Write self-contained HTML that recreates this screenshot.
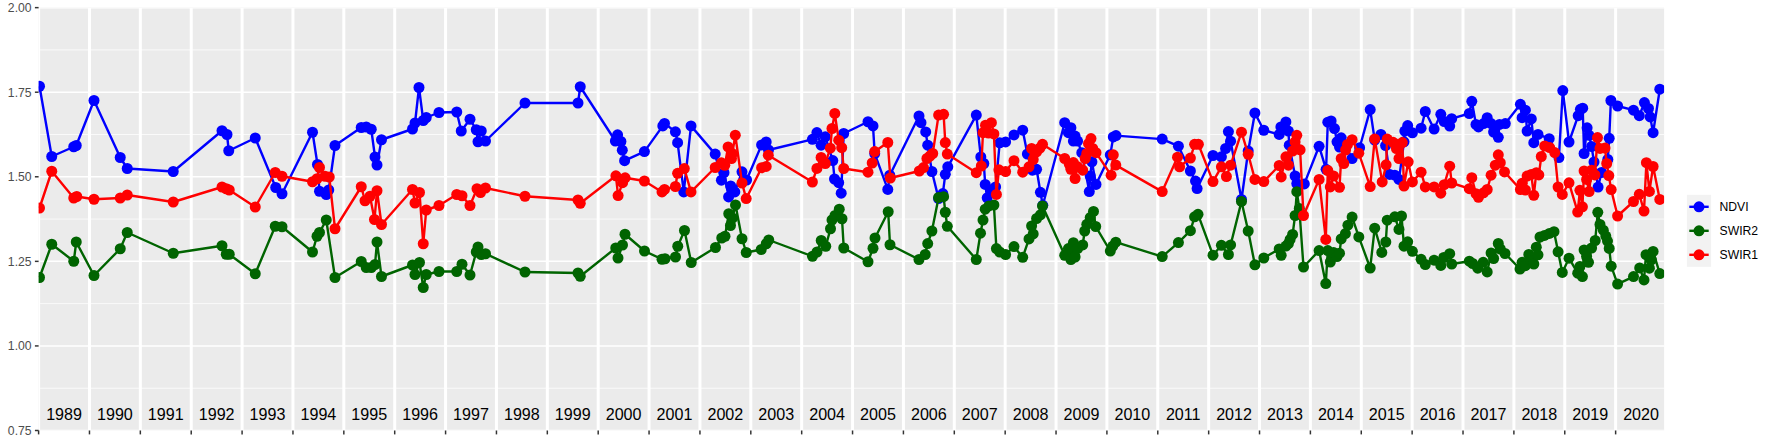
<!DOCTYPE html><html><head><meta charset="utf-8"><title>plot</title><style>html,body{margin:0;padding:0;background:#fff}svg{display:block}text{font-family:"Liberation Sans",Arial,Helvetica,sans-serif}</style></head><body>
<svg width="1773" height="442" viewBox="0 0 1773 442">
<rect width="1773" height="442" fill="#fff"/>
<defs><clipPath id="cp"><rect x="38.6" y="7.64" width="1625.5" height="422.86"/></clipPath></defs>
<rect x="38.6" y="7.64" width="1625.5" height="422.86" fill="#EBEBEB"/>
<g clip-path="url(#cp)">
<line x1="38.6" x2="1664.1" y1="49.93" y2="49.93" stroke="#fff" stroke-width="0.75"/>
<line x1="38.6" x2="1664.1" y1="134.50" y2="134.50" stroke="#fff" stroke-width="0.75"/>
<line x1="38.6" x2="1664.1" y1="219.07" y2="219.07" stroke="#fff" stroke-width="0.75"/>
<line x1="38.6" x2="1664.1" y1="303.64" y2="303.64" stroke="#fff" stroke-width="0.75"/>
<line x1="38.6" x2="1664.1" y1="388.21" y2="388.21" stroke="#fff" stroke-width="0.75"/>
<line x1="38.6" x2="1664.1" y1="7.64" y2="7.64" stroke="#fff" stroke-width="1.48"/>
<line x1="38.6" x2="1664.1" y1="92.21" y2="92.21" stroke="#fff" stroke-width="1.48"/>
<line x1="38.6" x2="1664.1" y1="176.78" y2="176.78" stroke="#fff" stroke-width="1.48"/>
<line x1="38.6" x2="1664.1" y1="261.36" y2="261.36" stroke="#fff" stroke-width="1.48"/>
<line x1="38.6" x2="1664.1" y1="345.93" y2="345.93" stroke="#fff" stroke-width="1.48"/>
<line x1="38.6" x2="1664.1" y1="430.50" y2="430.50" stroke="#fff" stroke-width="1.48"/>
<line x1="38.60" x2="38.60" y1="7.64" y2="430.5" stroke="#fff" stroke-width="3"/>
<line x1="89.47" x2="89.47" y1="7.64" y2="430.5" stroke="#fff" stroke-width="3"/>
<line x1="140.34" x2="140.34" y1="7.64" y2="430.5" stroke="#fff" stroke-width="3"/>
<line x1="191.22" x2="191.22" y1="7.64" y2="430.5" stroke="#fff" stroke-width="3"/>
<line x1="242.09" x2="242.09" y1="7.64" y2="430.5" stroke="#fff" stroke-width="3"/>
<line x1="292.96" x2="292.96" y1="7.64" y2="430.5" stroke="#fff" stroke-width="3"/>
<line x1="343.83" x2="343.83" y1="7.64" y2="430.5" stroke="#fff" stroke-width="3"/>
<line x1="394.70" x2="394.70" y1="7.64" y2="430.5" stroke="#fff" stroke-width="3"/>
<line x1="445.58" x2="445.58" y1="7.64" y2="430.5" stroke="#fff" stroke-width="3"/>
<line x1="496.45" x2="496.45" y1="7.64" y2="430.5" stroke="#fff" stroke-width="3"/>
<line x1="547.32" x2="547.32" y1="7.64" y2="430.5" stroke="#fff" stroke-width="3"/>
<line x1="598.19" x2="598.19" y1="7.64" y2="430.5" stroke="#fff" stroke-width="3"/>
<line x1="649.06" x2="649.06" y1="7.64" y2="430.5" stroke="#fff" stroke-width="3"/>
<line x1="699.94" x2="699.94" y1="7.64" y2="430.5" stroke="#fff" stroke-width="3"/>
<line x1="750.81" x2="750.81" y1="7.64" y2="430.5" stroke="#fff" stroke-width="3"/>
<line x1="801.68" x2="801.68" y1="7.64" y2="430.5" stroke="#fff" stroke-width="3"/>
<line x1="852.55" x2="852.55" y1="7.64" y2="430.5" stroke="#fff" stroke-width="3"/>
<line x1="903.42" x2="903.42" y1="7.64" y2="430.5" stroke="#fff" stroke-width="3"/>
<line x1="954.30" x2="954.30" y1="7.64" y2="430.5" stroke="#fff" stroke-width="3"/>
<line x1="1005.17" x2="1005.17" y1="7.64" y2="430.5" stroke="#fff" stroke-width="3"/>
<line x1="1056.04" x2="1056.04" y1="7.64" y2="430.5" stroke="#fff" stroke-width="3"/>
<line x1="1106.91" x2="1106.91" y1="7.64" y2="430.5" stroke="#fff" stroke-width="3"/>
<line x1="1157.78" x2="1157.78" y1="7.64" y2="430.5" stroke="#fff" stroke-width="3"/>
<line x1="1208.66" x2="1208.66" y1="7.64" y2="430.5" stroke="#fff" stroke-width="3"/>
<line x1="1259.53" x2="1259.53" y1="7.64" y2="430.5" stroke="#fff" stroke-width="3"/>
<line x1="1310.40" x2="1310.40" y1="7.64" y2="430.5" stroke="#fff" stroke-width="3"/>
<line x1="1361.27" x2="1361.27" y1="7.64" y2="430.5" stroke="#fff" stroke-width="3"/>
<line x1="1412.14" x2="1412.14" y1="7.64" y2="430.5" stroke="#fff" stroke-width="3"/>
<line x1="1463.02" x2="1463.02" y1="7.64" y2="430.5" stroke="#fff" stroke-width="3"/>
<line x1="1513.89" x2="1513.89" y1="7.64" y2="430.5" stroke="#fff" stroke-width="3"/>
<line x1="1564.76" x2="1564.76" y1="7.64" y2="430.5" stroke="#fff" stroke-width="3"/>
<line x1="1615.63" x2="1615.63" y1="7.64" y2="430.5" stroke="#fff" stroke-width="3"/>
<polyline points="39.50,86.25 51.75,156.50 73.75,146.75 76.25,145.50 94.00,100.50 120.25,157.50 127.25,168.50 173.25,171.50 222.00,130.75 227.00,134.50 228.75,150.75 255.25,138.00 275.75,187.50 282.00,193.75 312.50,132.25 317.50,164.50 319.50,191.25 326.25,194.50 328.75,190.00 335.00,145.50 361.25,127.50 366.25,127.00 371.25,129.25 375.00,157.00 377.00,165.00 381.50,139.75 412.50,129.00 415.00,123.00 419.00,87.50 423.25,120.50 426.25,117.50 439.00,112.50 456.75,112.00 461.25,131.00 470.00,119.25 476.25,129.75 478.00,141.75 481.25,131.00 485.50,141.00 525.00,103.00 578.00,103.00 580.25,86.75 615.40,141.00 617.60,134.80 620.90,141.50 622.30,150.20 624.60,160.70 644.40,151.60 662.80,125.90 664.50,123.40 675.40,131.80 677.60,142.70 683.75,191.90 691.00,125.90 715.20,154.10 721.40,180.20 724.00,172.70 728.60,196.90 730.70,186.00 734.80,191.90 742.00,171.80 746.60,180.00 761.60,144.90 766.20,141.90 768.50,150.00 812.40,139.30 816.90,132.60 821.10,145.20 825.30,136.80 832.80,160.60 834.50,179.00 838.70,182.70 841.20,193.20 843.70,133.50 868.00,121.75 873.00,125.90 874.70,153.60 887.80,189.40 889.80,175.20 919.00,116.00 921.00,122.70 925.70,131.90 927.70,145.20 931.90,171.50 938.60,198.60 942.80,193.60 945.30,174.30 947.80,166.80 976.30,115.10 980.80,157.00 983.80,163.50 985.20,184.40 987.20,197.80 991.00,190.00 995.60,186.90 999.70,142.80 1005.60,141.90 1014.00,134.90 1022.70,130.20 1027.40,154.00 1032.40,170.20 1036.60,169.30 1040.40,192.30 1042.80,205.30 1064.70,122.70 1068.40,132.70 1070.90,127.70 1073.40,141.10 1075.10,136.10 1077.60,141.10 1081.80,152.70 1089.30,191.60 1090.20,176.00 1091.90,161.80 1096.00,184.40 1110.30,154.80 1113.30,136.90 1116.00,135.60 1162.20,139.10 1178.40,146.20 1190.40,171.00 1195.50,181.10 1197.10,188.60 1213.00,155.50 1221.40,156.80 1225.60,148.50 1228.40,131.60 1230.60,141.20 1241.50,199.50 1248.20,151.00 1254.90,113.00 1263.80,130.25 1279.20,134.40 1280.90,126.90 1285.90,121.90 1288.40,131.10 1289.25,145.20 1295.10,176.00 1296.80,183.60 1304.30,183.90 1319.10,146.30 1326.10,169.30 1327.80,122.20 1331.10,121.00 1334.50,128.60 1337.00,141.80 1339.50,147.00 1341.20,137.80 1352.10,158.50 1359.60,147.70 1370.20,109.60 1374.70,140.00 1380.90,134.40 1385.60,145.60 1389.75,174.40 1394.80,175.20 1399.00,179.40 1404.00,141.80 1404.80,131.10 1407.70,125.60 1412.40,132.80 1421.10,128.20 1425.30,111.50 1434.10,129.10 1440.80,114.30 1444.20,121.50 1449.70,126.10 1451.70,118.70 1469.30,113.50 1471.80,101.30 1476.00,124.40 1478.50,126.90 1483.50,123.60 1487.20,117.70 1491.10,123.60 1493.60,132.00 1498.30,137.30 1499.50,124.40 1505.30,123.60 1520.40,104.30 1522.10,117.70 1525.40,110.20 1527.10,131.10 1531.30,118.90 1533.80,142.70 1538.00,134.40 1549.20,138.70 1558.90,157.60 1562.80,90.60 1569.00,142.00 1578.20,115.70 1580.40,109.30 1582.70,108.20 1584.10,153.50 1587.10,127.80 1589.10,135.30 1591.60,146.50 1594.00,162.00 1598.10,187.10 1601.50,172.50 1607.80,159.40 1609.20,138.30 1610.90,100.50 1617.60,106.00 1633.50,110.20 1639.30,115.70 1644.40,102.60 1648.50,108.50 1650.20,116.90 1653.10,132.70 1659.80,89.20" fill="none" stroke="#0000FF" stroke-width="2.4" stroke-linejoin="round" stroke-linecap="butt"/>
<g fill="#0000FF"><circle cx="39.50" cy="86.25" r="5.5"/><circle cx="51.75" cy="156.50" r="5.5"/><circle cx="73.75" cy="146.75" r="5.5"/><circle cx="76.25" cy="145.50" r="5.5"/><circle cx="94.00" cy="100.50" r="5.5"/><circle cx="120.25" cy="157.50" r="5.5"/><circle cx="127.25" cy="168.50" r="5.5"/><circle cx="173.25" cy="171.50" r="5.5"/><circle cx="222.00" cy="130.75" r="5.5"/><circle cx="227.00" cy="134.50" r="5.5"/><circle cx="228.75" cy="150.75" r="5.5"/><circle cx="255.25" cy="138.00" r="5.5"/><circle cx="275.75" cy="187.50" r="5.5"/><circle cx="282.00" cy="193.75" r="5.5"/><circle cx="312.50" cy="132.25" r="5.5"/><circle cx="317.50" cy="164.50" r="5.5"/><circle cx="319.50" cy="191.25" r="5.5"/><circle cx="326.25" cy="194.50" r="5.5"/><circle cx="328.75" cy="190.00" r="5.5"/><circle cx="335.00" cy="145.50" r="5.5"/><circle cx="361.25" cy="127.50" r="5.5"/><circle cx="366.25" cy="127.00" r="5.5"/><circle cx="371.25" cy="129.25" r="5.5"/><circle cx="375.00" cy="157.00" r="5.5"/><circle cx="377.00" cy="165.00" r="5.5"/><circle cx="381.50" cy="139.75" r="5.5"/><circle cx="412.50" cy="129.00" r="5.5"/><circle cx="415.00" cy="123.00" r="5.5"/><circle cx="419.00" cy="87.50" r="5.5"/><circle cx="423.25" cy="120.50" r="5.5"/><circle cx="426.25" cy="117.50" r="5.5"/><circle cx="439.00" cy="112.50" r="5.5"/><circle cx="456.75" cy="112.00" r="5.5"/><circle cx="461.25" cy="131.00" r="5.5"/><circle cx="470.00" cy="119.25" r="5.5"/><circle cx="476.25" cy="129.75" r="5.5"/><circle cx="478.00" cy="141.75" r="5.5"/><circle cx="481.25" cy="131.00" r="5.5"/><circle cx="485.50" cy="141.00" r="5.5"/><circle cx="525.00" cy="103.00" r="5.5"/><circle cx="578.00" cy="103.00" r="5.5"/><circle cx="580.25" cy="86.75" r="5.5"/><circle cx="615.40" cy="141.00" r="5.5"/><circle cx="617.60" cy="134.80" r="5.5"/><circle cx="620.90" cy="141.50" r="5.5"/><circle cx="622.30" cy="150.20" r="5.5"/><circle cx="624.60" cy="160.70" r="5.5"/><circle cx="644.40" cy="151.60" r="5.5"/><circle cx="662.80" cy="125.90" r="5.5"/><circle cx="664.50" cy="123.40" r="5.5"/><circle cx="675.40" cy="131.80" r="5.5"/><circle cx="677.60" cy="142.70" r="5.5"/><circle cx="683.75" cy="191.90" r="5.5"/><circle cx="691.00" cy="125.90" r="5.5"/><circle cx="715.20" cy="154.10" r="5.5"/><circle cx="721.40" cy="180.20" r="5.5"/><circle cx="724.00" cy="172.70" r="5.5"/><circle cx="728.60" cy="196.90" r="5.5"/><circle cx="730.70" cy="186.00" r="5.5"/><circle cx="734.80" cy="191.90" r="5.5"/><circle cx="742.00" cy="171.80" r="5.5"/><circle cx="746.60" cy="180.00" r="5.5"/><circle cx="761.60" cy="144.90" r="5.5"/><circle cx="766.20" cy="141.90" r="5.5"/><circle cx="768.50" cy="150.00" r="5.5"/><circle cx="812.40" cy="139.30" r="5.5"/><circle cx="816.90" cy="132.60" r="5.5"/><circle cx="821.10" cy="145.20" r="5.5"/><circle cx="825.30" cy="136.80" r="5.5"/><circle cx="832.80" cy="160.60" r="5.5"/><circle cx="834.50" cy="179.00" r="5.5"/><circle cx="838.70" cy="182.70" r="5.5"/><circle cx="841.20" cy="193.20" r="5.5"/><circle cx="843.70" cy="133.50" r="5.5"/><circle cx="868.00" cy="121.75" r="5.5"/><circle cx="873.00" cy="125.90" r="5.5"/><circle cx="874.70" cy="153.60" r="5.5"/><circle cx="887.80" cy="189.40" r="5.5"/><circle cx="889.80" cy="175.20" r="5.5"/><circle cx="919.00" cy="116.00" r="5.5"/><circle cx="921.00" cy="122.70" r="5.5"/><circle cx="925.70" cy="131.90" r="5.5"/><circle cx="927.70" cy="145.20" r="5.5"/><circle cx="931.90" cy="171.50" r="5.5"/><circle cx="938.60" cy="198.60" r="5.5"/><circle cx="942.80" cy="193.60" r="5.5"/><circle cx="945.30" cy="174.30" r="5.5"/><circle cx="947.80" cy="166.80" r="5.5"/><circle cx="976.30" cy="115.10" r="5.5"/><circle cx="980.80" cy="157.00" r="5.5"/><circle cx="983.80" cy="163.50" r="5.5"/><circle cx="985.20" cy="184.40" r="5.5"/><circle cx="987.20" cy="197.80" r="5.5"/><circle cx="991.00" cy="190.00" r="5.5"/><circle cx="995.60" cy="186.90" r="5.5"/><circle cx="999.70" cy="142.80" r="5.5"/><circle cx="1005.60" cy="141.90" r="5.5"/><circle cx="1014.00" cy="134.90" r="5.5"/><circle cx="1022.70" cy="130.20" r="5.5"/><circle cx="1027.40" cy="154.00" r="5.5"/><circle cx="1032.40" cy="170.20" r="5.5"/><circle cx="1036.60" cy="169.30" r="5.5"/><circle cx="1040.40" cy="192.30" r="5.5"/><circle cx="1042.80" cy="205.30" r="5.5"/><circle cx="1064.70" cy="122.70" r="5.5"/><circle cx="1068.40" cy="132.70" r="5.5"/><circle cx="1070.90" cy="127.70" r="5.5"/><circle cx="1073.40" cy="141.10" r="5.5"/><circle cx="1075.10" cy="136.10" r="5.5"/><circle cx="1077.60" cy="141.10" r="5.5"/><circle cx="1081.80" cy="152.70" r="5.5"/><circle cx="1089.30" cy="191.60" r="5.5"/><circle cx="1090.20" cy="176.00" r="5.5"/><circle cx="1091.90" cy="161.80" r="5.5"/><circle cx="1096.00" cy="184.40" r="5.5"/><circle cx="1110.30" cy="154.80" r="5.5"/><circle cx="1113.30" cy="136.90" r="5.5"/><circle cx="1116.00" cy="135.60" r="5.5"/><circle cx="1162.20" cy="139.10" r="5.5"/><circle cx="1178.40" cy="146.20" r="5.5"/><circle cx="1190.40" cy="171.00" r="5.5"/><circle cx="1195.50" cy="181.10" r="5.5"/><circle cx="1197.10" cy="188.60" r="5.5"/><circle cx="1213.00" cy="155.50" r="5.5"/><circle cx="1221.40" cy="156.80" r="5.5"/><circle cx="1225.60" cy="148.50" r="5.5"/><circle cx="1228.40" cy="131.60" r="5.5"/><circle cx="1230.60" cy="141.20" r="5.5"/><circle cx="1241.50" cy="199.50" r="5.5"/><circle cx="1248.20" cy="151.00" r="5.5"/><circle cx="1254.90" cy="113.00" r="5.5"/><circle cx="1263.80" cy="130.25" r="5.5"/><circle cx="1279.20" cy="134.40" r="5.5"/><circle cx="1280.90" cy="126.90" r="5.5"/><circle cx="1285.90" cy="121.90" r="5.5"/><circle cx="1288.40" cy="131.10" r="5.5"/><circle cx="1289.25" cy="145.20" r="5.5"/><circle cx="1295.10" cy="176.00" r="5.5"/><circle cx="1296.80" cy="183.60" r="5.5"/><circle cx="1304.30" cy="183.90" r="5.5"/><circle cx="1319.10" cy="146.30" r="5.5"/><circle cx="1326.10" cy="169.30" r="5.5"/><circle cx="1327.80" cy="122.20" r="5.5"/><circle cx="1331.10" cy="121.00" r="5.5"/><circle cx="1334.50" cy="128.60" r="5.5"/><circle cx="1337.00" cy="141.80" r="5.5"/><circle cx="1339.50" cy="147.00" r="5.5"/><circle cx="1341.20" cy="137.80" r="5.5"/><circle cx="1352.10" cy="158.50" r="5.5"/><circle cx="1359.60" cy="147.70" r="5.5"/><circle cx="1370.20" cy="109.60" r="5.5"/><circle cx="1374.70" cy="140.00" r="5.5"/><circle cx="1380.90" cy="134.40" r="5.5"/><circle cx="1385.60" cy="145.60" r="5.5"/><circle cx="1389.75" cy="174.40" r="5.5"/><circle cx="1394.80" cy="175.20" r="5.5"/><circle cx="1399.00" cy="179.40" r="5.5"/><circle cx="1404.00" cy="141.80" r="5.5"/><circle cx="1404.80" cy="131.10" r="5.5"/><circle cx="1407.70" cy="125.60" r="5.5"/><circle cx="1412.40" cy="132.80" r="5.5"/><circle cx="1421.10" cy="128.20" r="5.5"/><circle cx="1425.30" cy="111.50" r="5.5"/><circle cx="1434.10" cy="129.10" r="5.5"/><circle cx="1440.80" cy="114.30" r="5.5"/><circle cx="1444.20" cy="121.50" r="5.5"/><circle cx="1449.70" cy="126.10" r="5.5"/><circle cx="1451.70" cy="118.70" r="5.5"/><circle cx="1469.30" cy="113.50" r="5.5"/><circle cx="1471.80" cy="101.30" r="5.5"/><circle cx="1476.00" cy="124.40" r="5.5"/><circle cx="1478.50" cy="126.90" r="5.5"/><circle cx="1483.50" cy="123.60" r="5.5"/><circle cx="1487.20" cy="117.70" r="5.5"/><circle cx="1491.10" cy="123.60" r="5.5"/><circle cx="1493.60" cy="132.00" r="5.5"/><circle cx="1498.30" cy="137.30" r="5.5"/><circle cx="1499.50" cy="124.40" r="5.5"/><circle cx="1505.30" cy="123.60" r="5.5"/><circle cx="1520.40" cy="104.30" r="5.5"/><circle cx="1522.10" cy="117.70" r="5.5"/><circle cx="1525.40" cy="110.20" r="5.5"/><circle cx="1527.10" cy="131.10" r="5.5"/><circle cx="1531.30" cy="118.90" r="5.5"/><circle cx="1533.80" cy="142.70" r="5.5"/><circle cx="1538.00" cy="134.40" r="5.5"/><circle cx="1549.20" cy="138.70" r="5.5"/><circle cx="1558.90" cy="157.60" r="5.5"/><circle cx="1562.80" cy="90.60" r="5.5"/><circle cx="1569.00" cy="142.00" r="5.5"/><circle cx="1578.20" cy="115.70" r="5.5"/><circle cx="1580.40" cy="109.30" r="5.5"/><circle cx="1582.70" cy="108.20" r="5.5"/><circle cx="1584.10" cy="153.50" r="5.5"/><circle cx="1587.10" cy="127.80" r="5.5"/><circle cx="1589.10" cy="135.30" r="5.5"/><circle cx="1591.60" cy="146.50" r="5.5"/><circle cx="1594.00" cy="162.00" r="5.5"/><circle cx="1598.10" cy="187.10" r="5.5"/><circle cx="1601.50" cy="172.50" r="5.5"/><circle cx="1607.80" cy="159.40" r="5.5"/><circle cx="1609.20" cy="138.30" r="5.5"/><circle cx="1610.90" cy="100.50" r="5.5"/><circle cx="1617.60" cy="106.00" r="5.5"/><circle cx="1633.50" cy="110.20" r="5.5"/><circle cx="1639.30" cy="115.70" r="5.5"/><circle cx="1644.40" cy="102.60" r="5.5"/><circle cx="1648.50" cy="108.50" r="5.5"/><circle cx="1650.20" cy="116.90" r="5.5"/><circle cx="1653.10" cy="132.70" r="5.5"/><circle cx="1659.80" cy="89.20" r="5.5"/></g>
<polyline points="39.50,277.50 51.75,244.25 73.75,261.25 76.25,242.00 94.00,275.50 120.25,248.75 127.25,232.50 173.25,253.25 222.00,245.75 226.25,254.25 229.25,254.25 255.25,273.75 275.25,226.25 282.00,226.75 312.50,252.00 317.00,236.25 319.50,232.50 326.25,220.00 335.00,277.50 361.25,261.50 366.25,267.50 371.25,267.50 375.00,264.50 377.00,242.00 381.50,276.50 412.50,265.00 415.00,274.50 419.50,262.50 423.25,287.50 426.25,274.50 439.00,271.50 456.75,271.50 462.00,264.25 470.00,275.00 476.25,252.00 478.00,247.00 481.25,254.50 485.50,253.75 525.00,272.00 578.00,273.00 580.25,276.25 615.75,248.00 618.00,258.00 622.50,245.00 625.00,234.25 644.50,251.00 662.00,259.25 665.00,258.75 675.50,257.00 677.75,246.25 684.50,230.50 691.25,262.50 715.50,247.50 721.75,238.00 725.00,236.25 728.75,213.75 730.50,225.50 732.50,218.00 735.50,205.00 742.00,238.75 746.25,252.50 761.25,249.50 766.25,243.75 768.75,240.00 812.50,256.25 817.00,252.00 821.25,240.50 825.75,246.25 830.50,228.75 832.00,220.00 835.00,215.50 839.25,209.25 842.00,218.75 843.75,248.00 868.00,261.75 873.00,248.25 875.00,238.00 888.20,211.75 890.00,244.75 919.00,259.50 925.20,254.50 927.70,243.60 931.90,231.00 938.60,197.50 943.60,196.70 945.30,212.25 947.30,226.30 976.30,259.50 980.50,233.20 983.00,220.10 985.20,209.20 988.90,205.90 993.90,205.00 996.40,248.60 999.70,252.00 1005.60,254.50 1014.00,246.60 1022.70,257.30 1029.00,238.90 1031.60,226.00 1033.20,233.90 1036.60,218.50 1040.40,214.80 1042.50,205.90 1064.70,255.30 1068.40,248.60 1070.90,259.50 1073.40,242.70 1075.10,257.00 1077.60,248.60 1082.70,244.90 1084.70,231.00 1086.80,224.30 1090.20,217.60 1093.50,211.40 1095.70,226.50 1110.30,251.10 1112.80,246.10 1115.80,242.20 1162.20,256.60 1178.40,242.60 1190.40,230.70 1194.60,216.80 1198.00,214.30 1213.00,255.20 1221.40,245.30 1228.40,254.50 1230.60,244.90 1241.50,201.40 1248.20,231.00 1254.90,264.80 1263.80,258.00 1279.20,249.00 1281.20,255.30 1285.90,246.10 1288.40,243.60 1290.10,239.40 1292.60,234.40 1295.10,215.50 1296.80,191.70 1299.30,208.40 1303.50,267.00 1319.10,250.60 1325.80,283.60 1327.80,250.60 1330.30,262.00 1333.60,252.50 1337.00,256.50 1339.50,253.20 1341.20,238.90 1345.40,233.60 1347.90,225.20 1352.10,217.10 1358.80,236.90 1370.20,268.00 1374.70,228.20 1381.80,252.40 1385.80,242.00 1387.20,220.20 1394.80,216.80 1399.00,229.40 1401.50,216.00 1404.00,246.20 1407.70,241.80 1412.40,251.30 1421.10,259.30 1425.30,264.50 1434.10,260.20 1440.80,265.40 1443.80,257.50 1449.70,253.70 1451.70,264.00 1469.30,261.20 1472.70,263.50 1477.70,268.20 1483.20,262.30 1487.20,271.90 1491.10,253.00 1493.60,258.50 1498.30,243.50 1500.30,249.00 1505.00,253.50 1520.00,269.00 1522.10,262.30 1525.40,265.70 1528.80,254.50 1531.30,260.70 1533.80,264.00 1536.30,247.20 1538.00,254.80 1540.00,237.00 1544.50,235.40 1549.40,233.40 1554.00,231.70 1558.10,251.80 1562.30,272.40 1569.00,258.20 1577.70,273.20 1579.90,266.50 1582.40,276.60 1584.10,250.00 1586.60,256.50 1588.50,262.30 1591.60,248.00 1595.20,240.50 1597.80,212.30 1600.00,224.40 1603.30,230.20 1605.80,236.10 1607.50,241.10 1609.20,248.40 1611.20,266.20 1617.60,284.10 1633.50,276.60 1639.70,267.90 1644.00,279.90 1646.00,254.70 1649.40,268.20 1651.40,259.80 1653.10,251.40 1659.80,273.60" fill="none" stroke="#006400" stroke-width="2.4" stroke-linejoin="round" stroke-linecap="butt"/>
<g fill="#006400"><circle cx="39.50" cy="277.50" r="5.5"/><circle cx="51.75" cy="244.25" r="5.5"/><circle cx="73.75" cy="261.25" r="5.5"/><circle cx="76.25" cy="242.00" r="5.5"/><circle cx="94.00" cy="275.50" r="5.5"/><circle cx="120.25" cy="248.75" r="5.5"/><circle cx="127.25" cy="232.50" r="5.5"/><circle cx="173.25" cy="253.25" r="5.5"/><circle cx="222.00" cy="245.75" r="5.5"/><circle cx="226.25" cy="254.25" r="5.5"/><circle cx="229.25" cy="254.25" r="5.5"/><circle cx="255.25" cy="273.75" r="5.5"/><circle cx="275.25" cy="226.25" r="5.5"/><circle cx="282.00" cy="226.75" r="5.5"/><circle cx="312.50" cy="252.00" r="5.5"/><circle cx="317.00" cy="236.25" r="5.5"/><circle cx="319.50" cy="232.50" r="5.5"/><circle cx="326.25" cy="220.00" r="5.5"/><circle cx="335.00" cy="277.50" r="5.5"/><circle cx="361.25" cy="261.50" r="5.5"/><circle cx="366.25" cy="267.50" r="5.5"/><circle cx="371.25" cy="267.50" r="5.5"/><circle cx="375.00" cy="264.50" r="5.5"/><circle cx="377.00" cy="242.00" r="5.5"/><circle cx="381.50" cy="276.50" r="5.5"/><circle cx="412.50" cy="265.00" r="5.5"/><circle cx="415.00" cy="274.50" r="5.5"/><circle cx="419.50" cy="262.50" r="5.5"/><circle cx="423.25" cy="287.50" r="5.5"/><circle cx="426.25" cy="274.50" r="5.5"/><circle cx="439.00" cy="271.50" r="5.5"/><circle cx="456.75" cy="271.50" r="5.5"/><circle cx="462.00" cy="264.25" r="5.5"/><circle cx="470.00" cy="275.00" r="5.5"/><circle cx="476.25" cy="252.00" r="5.5"/><circle cx="478.00" cy="247.00" r="5.5"/><circle cx="481.25" cy="254.50" r="5.5"/><circle cx="485.50" cy="253.75" r="5.5"/><circle cx="525.00" cy="272.00" r="5.5"/><circle cx="578.00" cy="273.00" r="5.5"/><circle cx="580.25" cy="276.25" r="5.5"/><circle cx="615.75" cy="248.00" r="5.5"/><circle cx="618.00" cy="258.00" r="5.5"/><circle cx="622.50" cy="245.00" r="5.5"/><circle cx="625.00" cy="234.25" r="5.5"/><circle cx="644.50" cy="251.00" r="5.5"/><circle cx="662.00" cy="259.25" r="5.5"/><circle cx="665.00" cy="258.75" r="5.5"/><circle cx="675.50" cy="257.00" r="5.5"/><circle cx="677.75" cy="246.25" r="5.5"/><circle cx="684.50" cy="230.50" r="5.5"/><circle cx="691.25" cy="262.50" r="5.5"/><circle cx="715.50" cy="247.50" r="5.5"/><circle cx="721.75" cy="238.00" r="5.5"/><circle cx="725.00" cy="236.25" r="5.5"/><circle cx="728.75" cy="213.75" r="5.5"/><circle cx="730.50" cy="225.50" r="5.5"/><circle cx="732.50" cy="218.00" r="5.5"/><circle cx="735.50" cy="205.00" r="5.5"/><circle cx="742.00" cy="238.75" r="5.5"/><circle cx="746.25" cy="252.50" r="5.5"/><circle cx="761.25" cy="249.50" r="5.5"/><circle cx="766.25" cy="243.75" r="5.5"/><circle cx="768.75" cy="240.00" r="5.5"/><circle cx="812.50" cy="256.25" r="5.5"/><circle cx="817.00" cy="252.00" r="5.5"/><circle cx="821.25" cy="240.50" r="5.5"/><circle cx="825.75" cy="246.25" r="5.5"/><circle cx="830.50" cy="228.75" r="5.5"/><circle cx="832.00" cy="220.00" r="5.5"/><circle cx="835.00" cy="215.50" r="5.5"/><circle cx="839.25" cy="209.25" r="5.5"/><circle cx="842.00" cy="218.75" r="5.5"/><circle cx="843.75" cy="248.00" r="5.5"/><circle cx="868.00" cy="261.75" r="5.5"/><circle cx="873.00" cy="248.25" r="5.5"/><circle cx="875.00" cy="238.00" r="5.5"/><circle cx="888.20" cy="211.75" r="5.5"/><circle cx="890.00" cy="244.75" r="5.5"/><circle cx="919.00" cy="259.50" r="5.5"/><circle cx="925.20" cy="254.50" r="5.5"/><circle cx="927.70" cy="243.60" r="5.5"/><circle cx="931.90" cy="231.00" r="5.5"/><circle cx="938.60" cy="197.50" r="5.5"/><circle cx="943.60" cy="196.70" r="5.5"/><circle cx="945.30" cy="212.25" r="5.5"/><circle cx="947.30" cy="226.30" r="5.5"/><circle cx="976.30" cy="259.50" r="5.5"/><circle cx="980.50" cy="233.20" r="5.5"/><circle cx="983.00" cy="220.10" r="5.5"/><circle cx="985.20" cy="209.20" r="5.5"/><circle cx="988.90" cy="205.90" r="5.5"/><circle cx="993.90" cy="205.00" r="5.5"/><circle cx="996.40" cy="248.60" r="5.5"/><circle cx="999.70" cy="252.00" r="5.5"/><circle cx="1005.60" cy="254.50" r="5.5"/><circle cx="1014.00" cy="246.60" r="5.5"/><circle cx="1022.70" cy="257.30" r="5.5"/><circle cx="1029.00" cy="238.90" r="5.5"/><circle cx="1031.60" cy="226.00" r="5.5"/><circle cx="1033.20" cy="233.90" r="5.5"/><circle cx="1036.60" cy="218.50" r="5.5"/><circle cx="1040.40" cy="214.80" r="5.5"/><circle cx="1042.50" cy="205.90" r="5.5"/><circle cx="1064.70" cy="255.30" r="5.5"/><circle cx="1068.40" cy="248.60" r="5.5"/><circle cx="1070.90" cy="259.50" r="5.5"/><circle cx="1073.40" cy="242.70" r="5.5"/><circle cx="1075.10" cy="257.00" r="5.5"/><circle cx="1077.60" cy="248.60" r="5.5"/><circle cx="1082.70" cy="244.90" r="5.5"/><circle cx="1084.70" cy="231.00" r="5.5"/><circle cx="1086.80" cy="224.30" r="5.5"/><circle cx="1090.20" cy="217.60" r="5.5"/><circle cx="1093.50" cy="211.40" r="5.5"/><circle cx="1095.70" cy="226.50" r="5.5"/><circle cx="1110.30" cy="251.10" r="5.5"/><circle cx="1112.80" cy="246.10" r="5.5"/><circle cx="1115.80" cy="242.20" r="5.5"/><circle cx="1162.20" cy="256.60" r="5.5"/><circle cx="1178.40" cy="242.60" r="5.5"/><circle cx="1190.40" cy="230.70" r="5.5"/><circle cx="1194.60" cy="216.80" r="5.5"/><circle cx="1198.00" cy="214.30" r="5.5"/><circle cx="1213.00" cy="255.20" r="5.5"/><circle cx="1221.40" cy="245.30" r="5.5"/><circle cx="1228.40" cy="254.50" r="5.5"/><circle cx="1230.60" cy="244.90" r="5.5"/><circle cx="1241.50" cy="201.40" r="5.5"/><circle cx="1248.20" cy="231.00" r="5.5"/><circle cx="1254.90" cy="264.80" r="5.5"/><circle cx="1263.80" cy="258.00" r="5.5"/><circle cx="1279.20" cy="249.00" r="5.5"/><circle cx="1281.20" cy="255.30" r="5.5"/><circle cx="1285.90" cy="246.10" r="5.5"/><circle cx="1288.40" cy="243.60" r="5.5"/><circle cx="1290.10" cy="239.40" r="5.5"/><circle cx="1292.60" cy="234.40" r="5.5"/><circle cx="1295.10" cy="215.50" r="5.5"/><circle cx="1296.80" cy="191.70" r="5.5"/><circle cx="1299.30" cy="208.40" r="5.5"/><circle cx="1303.50" cy="267.00" r="5.5"/><circle cx="1319.10" cy="250.60" r="5.5"/><circle cx="1325.80" cy="283.60" r="5.5"/><circle cx="1327.80" cy="250.60" r="5.5"/><circle cx="1330.30" cy="262.00" r="5.5"/><circle cx="1333.60" cy="252.50" r="5.5"/><circle cx="1337.00" cy="256.50" r="5.5"/><circle cx="1339.50" cy="253.20" r="5.5"/><circle cx="1341.20" cy="238.90" r="5.5"/><circle cx="1345.40" cy="233.60" r="5.5"/><circle cx="1347.90" cy="225.20" r="5.5"/><circle cx="1352.10" cy="217.10" r="5.5"/><circle cx="1358.80" cy="236.90" r="5.5"/><circle cx="1370.20" cy="268.00" r="5.5"/><circle cx="1374.70" cy="228.20" r="5.5"/><circle cx="1381.80" cy="252.40" r="5.5"/><circle cx="1385.80" cy="242.00" r="5.5"/><circle cx="1387.20" cy="220.20" r="5.5"/><circle cx="1394.80" cy="216.80" r="5.5"/><circle cx="1399.00" cy="229.40" r="5.5"/><circle cx="1401.50" cy="216.00" r="5.5"/><circle cx="1404.00" cy="246.20" r="5.5"/><circle cx="1407.70" cy="241.80" r="5.5"/><circle cx="1412.40" cy="251.30" r="5.5"/><circle cx="1421.10" cy="259.30" r="5.5"/><circle cx="1425.30" cy="264.50" r="5.5"/><circle cx="1434.10" cy="260.20" r="5.5"/><circle cx="1440.80" cy="265.40" r="5.5"/><circle cx="1443.80" cy="257.50" r="5.5"/><circle cx="1449.70" cy="253.70" r="5.5"/><circle cx="1451.70" cy="264.00" r="5.5"/><circle cx="1469.30" cy="261.20" r="5.5"/><circle cx="1472.70" cy="263.50" r="5.5"/><circle cx="1477.70" cy="268.20" r="5.5"/><circle cx="1483.20" cy="262.30" r="5.5"/><circle cx="1487.20" cy="271.90" r="5.5"/><circle cx="1491.10" cy="253.00" r="5.5"/><circle cx="1493.60" cy="258.50" r="5.5"/><circle cx="1498.30" cy="243.50" r="5.5"/><circle cx="1500.30" cy="249.00" r="5.5"/><circle cx="1505.00" cy="253.50" r="5.5"/><circle cx="1520.00" cy="269.00" r="5.5"/><circle cx="1522.10" cy="262.30" r="5.5"/><circle cx="1525.40" cy="265.70" r="5.5"/><circle cx="1528.80" cy="254.50" r="5.5"/><circle cx="1531.30" cy="260.70" r="5.5"/><circle cx="1533.80" cy="264.00" r="5.5"/><circle cx="1536.30" cy="247.20" r="5.5"/><circle cx="1538.00" cy="254.80" r="5.5"/><circle cx="1540.00" cy="237.00" r="5.5"/><circle cx="1544.50" cy="235.40" r="5.5"/><circle cx="1549.40" cy="233.40" r="5.5"/><circle cx="1554.00" cy="231.70" r="5.5"/><circle cx="1558.10" cy="251.80" r="5.5"/><circle cx="1562.30" cy="272.40" r="5.5"/><circle cx="1569.00" cy="258.20" r="5.5"/><circle cx="1577.70" cy="273.20" r="5.5"/><circle cx="1579.90" cy="266.50" r="5.5"/><circle cx="1582.40" cy="276.60" r="5.5"/><circle cx="1584.10" cy="250.00" r="5.5"/><circle cx="1586.60" cy="256.50" r="5.5"/><circle cx="1588.50" cy="262.30" r="5.5"/><circle cx="1591.60" cy="248.00" r="5.5"/><circle cx="1595.20" cy="240.50" r="5.5"/><circle cx="1597.80" cy="212.30" r="5.5"/><circle cx="1600.00" cy="224.40" r="5.5"/><circle cx="1603.30" cy="230.20" r="5.5"/><circle cx="1605.80" cy="236.10" r="5.5"/><circle cx="1607.50" cy="241.10" r="5.5"/><circle cx="1609.20" cy="248.40" r="5.5"/><circle cx="1611.20" cy="266.20" r="5.5"/><circle cx="1617.60" cy="284.10" r="5.5"/><circle cx="1633.50" cy="276.60" r="5.5"/><circle cx="1639.70" cy="267.90" r="5.5"/><circle cx="1644.00" cy="279.90" r="5.5"/><circle cx="1646.00" cy="254.70" r="5.5"/><circle cx="1649.40" cy="268.20" r="5.5"/><circle cx="1651.40" cy="259.80" r="5.5"/><circle cx="1653.10" cy="251.40" r="5.5"/><circle cx="1659.80" cy="273.60" r="5.5"/></g>
<polyline points="39.50,208.00 51.75,171.25 73.75,198.00 76.75,196.50 94.00,199.25 120.25,198.00 127.25,195.00 173.25,202.00 222.00,187.00 226.25,188.75 229.25,190.00 255.25,207.00 275.25,172.50 282.00,176.25 312.50,181.75 317.00,178.75 319.50,167.50 325.00,176.25 329.25,177.00 335.00,228.75 361.25,186.75 365.00,200.75 370.00,196.25 374.50,219.50 377.00,190.75 381.50,224.50 412.50,189.50 415.00,203.00 419.50,192.50 423.25,243.75 426.25,210.00 439.00,205.50 456.75,194.50 462.00,195.75 470.00,205.50 477.00,188.75 480.50,192.50 485.50,188.00 525.00,196.25 578.00,200.00 580.25,203.25 615.90,175.80 618.10,195.60 622.60,182.70 625.10,177.80 644.40,181.00 662.00,191.90 664.50,189.40 675.40,186.50 677.60,173.30 684.30,168.60 691.00,191.90 715.20,167.50 721.40,162.80 724.80,165.30 728.10,146.90 731.50,158.60 732.30,153.60 735.30,135.20 742.00,183.00 746.20,198.60 761.60,167.70 766.20,166.40 768.30,155.20 812.40,182.00 816.90,168.40 821.10,157.40 825.30,163.50 830.30,148.20 832.00,128.50 834.80,113.40 838.70,140.20 841.70,147.70 843.70,168.50 868.00,172.20 872.20,163.00 874.70,151.60 887.80,142.50 890.30,178.00 919.30,171.00 923.50,167.60 926.90,158.50 930.00,156.00 932.70,153.50 938.60,115.10 943.60,114.30 945.30,142.60 947.30,154.10 976.30,172.70 981.30,166.00 983.00,132.70 985.50,125.20 988.50,133.00 991.40,122.70 993.90,133.90 996.40,194.40 998.90,169.80 1005.60,171.50 1014.00,160.70 1022.70,172.20 1029.00,166.80 1031.60,148.50 1033.20,159.50 1036.60,151.80 1040.00,148.00 1042.50,144.30 1064.70,158.50 1069.30,164.30 1070.90,169.30 1073.40,162.60 1075.10,178.50 1077.60,166.80 1082.70,170.20 1085.20,158.50 1086.80,153.50 1088.50,143.60 1091.00,138.60 1092.70,148.50 1096.00,152.70 1111.10,175.20 1113.30,154.80 1115.80,165.10 1162.20,191.60 1177.50,157.20 1179.60,166.80 1190.40,158.10 1194.60,144.30 1198.40,144.30 1213.00,181.60 1221.40,166.80 1226.40,176.50 1230.60,165.20 1241.50,132.20 1248.20,154.30 1254.90,179.40 1263.80,181.60 1279.20,165.50 1281.20,176.90 1285.90,156.80 1288.40,165.20 1292.60,151.00 1295.10,142.00 1296.80,135.30 1300.10,149.80 1303.50,215.50 1319.10,179.40 1325.80,239.40 1327.80,170.50 1330.30,186.90 1333.60,176.00 1339.50,187.30 1341.20,158.50 1343.80,163.50 1345.60,150.00 1347.50,144.50 1352.10,139.70 1358.80,153.20 1370.20,186.60 1374.70,138.90 1382.20,181.90 1386.10,164.80 1387.20,139.10 1393.10,142.30 1396.40,148.50 1397.30,144.50 1399.00,158.50 1402.30,142.60 1404.00,186.10 1408.20,161.80 1412.40,181.90 1421.10,172.20 1425.30,186.90 1434.10,186.90 1440.80,193.20 1444.20,184.70 1449.70,166.20 1451.70,183.00 1469.30,188.70 1471.80,177.70 1476.00,193.70 1478.50,197.30 1483.50,192.80 1487.20,189.50 1491.10,175.20 1495.30,165.20 1498.30,154.80 1500.30,162.70 1504.50,171.90 1520.40,189.50 1522.10,183.30 1525.40,190.00 1527.10,176.10 1531.30,174.40 1533.80,195.30 1536.30,172.70 1538.80,174.90 1541.30,156.50 1544.70,146.00 1549.70,147.60 1554.70,152.60 1558.10,187.00 1562.30,194.40 1569.00,182.80 1577.70,212.10 1579.90,190.30 1582.40,206.80 1584.10,171.00 1586.60,179.40 1589.10,191.60 1591.60,170.20 1594.90,174.90 1597.50,137.60 1600.00,148.40 1605.00,148.10 1606.70,163.50 1608.80,175.60 1611.20,189.60 1617.60,216.00 1633.50,201.50 1639.30,194.30 1644.00,211.00 1646.40,162.70 1649.40,191.40 1653.10,166.50 1659.80,199.40" fill="none" stroke="#FF0000" stroke-width="2.4" stroke-linejoin="round" stroke-linecap="butt"/>
<g fill="#FF0000"><circle cx="39.50" cy="208.00" r="5.5"/><circle cx="51.75" cy="171.25" r="5.5"/><circle cx="73.75" cy="198.00" r="5.5"/><circle cx="76.75" cy="196.50" r="5.5"/><circle cx="94.00" cy="199.25" r="5.5"/><circle cx="120.25" cy="198.00" r="5.5"/><circle cx="127.25" cy="195.00" r="5.5"/><circle cx="173.25" cy="202.00" r="5.5"/><circle cx="222.00" cy="187.00" r="5.5"/><circle cx="226.25" cy="188.75" r="5.5"/><circle cx="229.25" cy="190.00" r="5.5"/><circle cx="255.25" cy="207.00" r="5.5"/><circle cx="275.25" cy="172.50" r="5.5"/><circle cx="282.00" cy="176.25" r="5.5"/><circle cx="312.50" cy="181.75" r="5.5"/><circle cx="317.00" cy="178.75" r="5.5"/><circle cx="319.50" cy="167.50" r="5.5"/><circle cx="325.00" cy="176.25" r="5.5"/><circle cx="329.25" cy="177.00" r="5.5"/><circle cx="335.00" cy="228.75" r="5.5"/><circle cx="361.25" cy="186.75" r="5.5"/><circle cx="365.00" cy="200.75" r="5.5"/><circle cx="370.00" cy="196.25" r="5.5"/><circle cx="374.50" cy="219.50" r="5.5"/><circle cx="377.00" cy="190.75" r="5.5"/><circle cx="381.50" cy="224.50" r="5.5"/><circle cx="412.50" cy="189.50" r="5.5"/><circle cx="415.00" cy="203.00" r="5.5"/><circle cx="419.50" cy="192.50" r="5.5"/><circle cx="423.25" cy="243.75" r="5.5"/><circle cx="426.25" cy="210.00" r="5.5"/><circle cx="439.00" cy="205.50" r="5.5"/><circle cx="456.75" cy="194.50" r="5.5"/><circle cx="462.00" cy="195.75" r="5.5"/><circle cx="470.00" cy="205.50" r="5.5"/><circle cx="477.00" cy="188.75" r="5.5"/><circle cx="480.50" cy="192.50" r="5.5"/><circle cx="485.50" cy="188.00" r="5.5"/><circle cx="525.00" cy="196.25" r="5.5"/><circle cx="578.00" cy="200.00" r="5.5"/><circle cx="580.25" cy="203.25" r="5.5"/><circle cx="615.90" cy="175.80" r="5.5"/><circle cx="618.10" cy="195.60" r="5.5"/><circle cx="622.60" cy="182.70" r="5.5"/><circle cx="625.10" cy="177.80" r="5.5"/><circle cx="644.40" cy="181.00" r="5.5"/><circle cx="662.00" cy="191.90" r="5.5"/><circle cx="664.50" cy="189.40" r="5.5"/><circle cx="675.40" cy="186.50" r="5.5"/><circle cx="677.60" cy="173.30" r="5.5"/><circle cx="684.30" cy="168.60" r="5.5"/><circle cx="691.00" cy="191.90" r="5.5"/><circle cx="715.20" cy="167.50" r="5.5"/><circle cx="721.40" cy="162.80" r="5.5"/><circle cx="724.80" cy="165.30" r="5.5"/><circle cx="728.10" cy="146.90" r="5.5"/><circle cx="731.50" cy="158.60" r="5.5"/><circle cx="732.30" cy="153.60" r="5.5"/><circle cx="735.30" cy="135.20" r="5.5"/><circle cx="742.00" cy="183.00" r="5.5"/><circle cx="746.20" cy="198.60" r="5.5"/><circle cx="761.60" cy="167.70" r="5.5"/><circle cx="766.20" cy="166.40" r="5.5"/><circle cx="768.30" cy="155.20" r="5.5"/><circle cx="812.40" cy="182.00" r="5.5"/><circle cx="816.90" cy="168.40" r="5.5"/><circle cx="821.10" cy="157.40" r="5.5"/><circle cx="825.30" cy="163.50" r="5.5"/><circle cx="830.30" cy="148.20" r="5.5"/><circle cx="832.00" cy="128.50" r="5.5"/><circle cx="834.80" cy="113.40" r="5.5"/><circle cx="838.70" cy="140.20" r="5.5"/><circle cx="841.70" cy="147.70" r="5.5"/><circle cx="843.70" cy="168.50" r="5.5"/><circle cx="868.00" cy="172.20" r="5.5"/><circle cx="872.20" cy="163.00" r="5.5"/><circle cx="874.70" cy="151.60" r="5.5"/><circle cx="887.80" cy="142.50" r="5.5"/><circle cx="890.30" cy="178.00" r="5.5"/><circle cx="919.30" cy="171.00" r="5.5"/><circle cx="923.50" cy="167.60" r="5.5"/><circle cx="926.90" cy="158.50" r="5.5"/><circle cx="930.00" cy="156.00" r="5.5"/><circle cx="932.70" cy="153.50" r="5.5"/><circle cx="938.60" cy="115.10" r="5.5"/><circle cx="943.60" cy="114.30" r="5.5"/><circle cx="945.30" cy="142.60" r="5.5"/><circle cx="947.30" cy="154.10" r="5.5"/><circle cx="976.30" cy="172.70" r="5.5"/><circle cx="981.30" cy="166.00" r="5.5"/><circle cx="983.00" cy="132.70" r="5.5"/><circle cx="985.50" cy="125.20" r="5.5"/><circle cx="988.50" cy="133.00" r="5.5"/><circle cx="991.40" cy="122.70" r="5.5"/><circle cx="993.90" cy="133.90" r="5.5"/><circle cx="996.40" cy="194.40" r="5.5"/><circle cx="998.90" cy="169.80" r="5.5"/><circle cx="1005.60" cy="171.50" r="5.5"/><circle cx="1014.00" cy="160.70" r="5.5"/><circle cx="1022.70" cy="172.20" r="5.5"/><circle cx="1029.00" cy="166.80" r="5.5"/><circle cx="1031.60" cy="148.50" r="5.5"/><circle cx="1033.20" cy="159.50" r="5.5"/><circle cx="1036.60" cy="151.80" r="5.5"/><circle cx="1040.00" cy="148.00" r="5.5"/><circle cx="1042.50" cy="144.30" r="5.5"/><circle cx="1064.70" cy="158.50" r="5.5"/><circle cx="1069.30" cy="164.30" r="5.5"/><circle cx="1070.90" cy="169.30" r="5.5"/><circle cx="1073.40" cy="162.60" r="5.5"/><circle cx="1075.10" cy="178.50" r="5.5"/><circle cx="1077.60" cy="166.80" r="5.5"/><circle cx="1082.70" cy="170.20" r="5.5"/><circle cx="1085.20" cy="158.50" r="5.5"/><circle cx="1086.80" cy="153.50" r="5.5"/><circle cx="1088.50" cy="143.60" r="5.5"/><circle cx="1091.00" cy="138.60" r="5.5"/><circle cx="1092.70" cy="148.50" r="5.5"/><circle cx="1096.00" cy="152.70" r="5.5"/><circle cx="1111.10" cy="175.20" r="5.5"/><circle cx="1113.30" cy="154.80" r="5.5"/><circle cx="1115.80" cy="165.10" r="5.5"/><circle cx="1162.20" cy="191.60" r="5.5"/><circle cx="1177.50" cy="157.20" r="5.5"/><circle cx="1179.60" cy="166.80" r="5.5"/><circle cx="1190.40" cy="158.10" r="5.5"/><circle cx="1194.60" cy="144.30" r="5.5"/><circle cx="1198.40" cy="144.30" r="5.5"/><circle cx="1213.00" cy="181.60" r="5.5"/><circle cx="1221.40" cy="166.80" r="5.5"/><circle cx="1226.40" cy="176.50" r="5.5"/><circle cx="1230.60" cy="165.20" r="5.5"/><circle cx="1241.50" cy="132.20" r="5.5"/><circle cx="1248.20" cy="154.30" r="5.5"/><circle cx="1254.90" cy="179.40" r="5.5"/><circle cx="1263.80" cy="181.60" r="5.5"/><circle cx="1279.20" cy="165.50" r="5.5"/><circle cx="1281.20" cy="176.90" r="5.5"/><circle cx="1285.90" cy="156.80" r="5.5"/><circle cx="1288.40" cy="165.20" r="5.5"/><circle cx="1292.60" cy="151.00" r="5.5"/><circle cx="1295.10" cy="142.00" r="5.5"/><circle cx="1296.80" cy="135.30" r="5.5"/><circle cx="1300.10" cy="149.80" r="5.5"/><circle cx="1303.50" cy="215.50" r="5.5"/><circle cx="1319.10" cy="179.40" r="5.5"/><circle cx="1325.80" cy="239.40" r="5.5"/><circle cx="1327.80" cy="170.50" r="5.5"/><circle cx="1330.30" cy="186.90" r="5.5"/><circle cx="1333.60" cy="176.00" r="5.5"/><circle cx="1339.50" cy="187.30" r="5.5"/><circle cx="1341.20" cy="158.50" r="5.5"/><circle cx="1343.80" cy="163.50" r="5.5"/><circle cx="1345.60" cy="150.00" r="5.5"/><circle cx="1347.50" cy="144.50" r="5.5"/><circle cx="1352.10" cy="139.70" r="5.5"/><circle cx="1358.80" cy="153.20" r="5.5"/><circle cx="1370.20" cy="186.60" r="5.5"/><circle cx="1374.70" cy="138.90" r="5.5"/><circle cx="1382.20" cy="181.90" r="5.5"/><circle cx="1386.10" cy="164.80" r="5.5"/><circle cx="1387.20" cy="139.10" r="5.5"/><circle cx="1393.10" cy="142.30" r="5.5"/><circle cx="1396.40" cy="148.50" r="5.5"/><circle cx="1397.30" cy="144.50" r="5.5"/><circle cx="1399.00" cy="158.50" r="5.5"/><circle cx="1402.30" cy="142.60" r="5.5"/><circle cx="1404.00" cy="186.10" r="5.5"/><circle cx="1408.20" cy="161.80" r="5.5"/><circle cx="1412.40" cy="181.90" r="5.5"/><circle cx="1421.10" cy="172.20" r="5.5"/><circle cx="1425.30" cy="186.90" r="5.5"/><circle cx="1434.10" cy="186.90" r="5.5"/><circle cx="1440.80" cy="193.20" r="5.5"/><circle cx="1444.20" cy="184.70" r="5.5"/><circle cx="1449.70" cy="166.20" r="5.5"/><circle cx="1451.70" cy="183.00" r="5.5"/><circle cx="1469.30" cy="188.70" r="5.5"/><circle cx="1471.80" cy="177.70" r="5.5"/><circle cx="1476.00" cy="193.70" r="5.5"/><circle cx="1478.50" cy="197.30" r="5.5"/><circle cx="1483.50" cy="192.80" r="5.5"/><circle cx="1487.20" cy="189.50" r="5.5"/><circle cx="1491.10" cy="175.20" r="5.5"/><circle cx="1495.30" cy="165.20" r="5.5"/><circle cx="1498.30" cy="154.80" r="5.5"/><circle cx="1500.30" cy="162.70" r="5.5"/><circle cx="1504.50" cy="171.90" r="5.5"/><circle cx="1520.40" cy="189.50" r="5.5"/><circle cx="1522.10" cy="183.30" r="5.5"/><circle cx="1525.40" cy="190.00" r="5.5"/><circle cx="1527.10" cy="176.10" r="5.5"/><circle cx="1531.30" cy="174.40" r="5.5"/><circle cx="1533.80" cy="195.30" r="5.5"/><circle cx="1536.30" cy="172.70" r="5.5"/><circle cx="1538.80" cy="174.90" r="5.5"/><circle cx="1541.30" cy="156.50" r="5.5"/><circle cx="1544.70" cy="146.00" r="5.5"/><circle cx="1549.70" cy="147.60" r="5.5"/><circle cx="1554.70" cy="152.60" r="5.5"/><circle cx="1558.10" cy="187.00" r="5.5"/><circle cx="1562.30" cy="194.40" r="5.5"/><circle cx="1569.00" cy="182.80" r="5.5"/><circle cx="1577.70" cy="212.10" r="5.5"/><circle cx="1579.90" cy="190.30" r="5.5"/><circle cx="1582.40" cy="206.80" r="5.5"/><circle cx="1584.10" cy="171.00" r="5.5"/><circle cx="1586.60" cy="179.40" r="5.5"/><circle cx="1589.10" cy="191.60" r="5.5"/><circle cx="1591.60" cy="170.20" r="5.5"/><circle cx="1594.90" cy="174.90" r="5.5"/><circle cx="1597.50" cy="137.60" r="5.5"/><circle cx="1600.00" cy="148.40" r="5.5"/><circle cx="1605.00" cy="148.10" r="5.5"/><circle cx="1606.70" cy="163.50" r="5.5"/><circle cx="1608.80" cy="175.60" r="5.5"/><circle cx="1611.20" cy="189.60" r="5.5"/><circle cx="1617.60" cy="216.00" r="5.5"/><circle cx="1633.50" cy="201.50" r="5.5"/><circle cx="1639.30" cy="194.30" r="5.5"/><circle cx="1644.00" cy="211.00" r="5.5"/><circle cx="1646.40" cy="162.70" r="5.5"/><circle cx="1649.40" cy="191.40" r="5.5"/><circle cx="1653.10" cy="166.50" r="5.5"/><circle cx="1659.80" cy="199.40" r="5.5"/></g>
<g font-size="16.1" fill="#000" text-anchor="middle">
<text x="64.04" y="419.6">1989</text>
<text x="114.91" y="419.6">1990</text>
<text x="165.78" y="419.6">1991</text>
<text x="216.65" y="419.6">1992</text>
<text x="267.52" y="419.6">1993</text>
<text x="318.40" y="419.6">1994</text>
<text x="369.27" y="419.6">1995</text>
<text x="420.14" y="419.6">1996</text>
<text x="471.01" y="419.6">1997</text>
<text x="521.88" y="419.6">1998</text>
<text x="572.76" y="419.6">1999</text>
<text x="623.63" y="419.6">2000</text>
<text x="674.50" y="419.6">2001</text>
<text x="725.37" y="419.6">2002</text>
<text x="776.24" y="419.6">2003</text>
<text x="827.12" y="419.6">2004</text>
<text x="877.99" y="419.6">2005</text>
<text x="928.86" y="419.6">2006</text>
<text x="979.73" y="419.6">2007</text>
<text x="1030.60" y="419.6">2008</text>
<text x="1081.48" y="419.6">2009</text>
<text x="1132.35" y="419.6">2010</text>
<text x="1183.22" y="419.6">2011</text>
<text x="1234.09" y="419.6">2012</text>
<text x="1284.96" y="419.6">2013</text>
<text x="1335.84" y="419.6">2014</text>
<text x="1386.71" y="419.6">2015</text>
<text x="1437.58" y="419.6">2016</text>
<text x="1488.45" y="419.6">2017</text>
<text x="1539.32" y="419.6">2018</text>
<text x="1590.20" y="419.6">2019</text>
<text x="1641.07" y="419.6">2020</text>
</g>
</g>
<g font-size="12.2" fill="#4D4D4D" text-anchor="end">
<line x1="34.9" x2="38.6" y1="7.64" y2="7.64" stroke="#333" stroke-width="1.48"/>
<text x="31.6" y="12.04">2.00</text>
<line x1="34.9" x2="38.6" y1="92.21" y2="92.21" stroke="#333" stroke-width="1.48"/>
<text x="31.6" y="96.61">1.75</text>
<line x1="34.9" x2="38.6" y1="176.78" y2="176.78" stroke="#333" stroke-width="1.48"/>
<text x="31.6" y="181.18">1.50</text>
<line x1="34.9" x2="38.6" y1="261.36" y2="261.36" stroke="#333" stroke-width="1.48"/>
<text x="31.6" y="265.76">1.25</text>
<line x1="34.9" x2="38.6" y1="345.93" y2="345.93" stroke="#333" stroke-width="1.48"/>
<text x="31.6" y="350.33">1.00</text>
<line x1="34.9" x2="38.6" y1="430.50" y2="430.50" stroke="#333" stroke-width="1.48"/>
<text x="31.6" y="434.90">0.75</text>
</g>
<line x1="38.60" x2="38.60" y1="430.5" y2="434.4" stroke="#333" stroke-width="1.48"/>
<line x1="89.47" x2="89.47" y1="430.5" y2="434.4" stroke="#333" stroke-width="1.48"/>
<line x1="140.34" x2="140.34" y1="430.5" y2="434.4" stroke="#333" stroke-width="1.48"/>
<line x1="191.22" x2="191.22" y1="430.5" y2="434.4" stroke="#333" stroke-width="1.48"/>
<line x1="242.09" x2="242.09" y1="430.5" y2="434.4" stroke="#333" stroke-width="1.48"/>
<line x1="292.96" x2="292.96" y1="430.5" y2="434.4" stroke="#333" stroke-width="1.48"/>
<line x1="343.83" x2="343.83" y1="430.5" y2="434.4" stroke="#333" stroke-width="1.48"/>
<line x1="394.70" x2="394.70" y1="430.5" y2="434.4" stroke="#333" stroke-width="1.48"/>
<line x1="445.58" x2="445.58" y1="430.5" y2="434.4" stroke="#333" stroke-width="1.48"/>
<line x1="496.45" x2="496.45" y1="430.5" y2="434.4" stroke="#333" stroke-width="1.48"/>
<line x1="547.32" x2="547.32" y1="430.5" y2="434.4" stroke="#333" stroke-width="1.48"/>
<line x1="598.19" x2="598.19" y1="430.5" y2="434.4" stroke="#333" stroke-width="1.48"/>
<line x1="649.06" x2="649.06" y1="430.5" y2="434.4" stroke="#333" stroke-width="1.48"/>
<line x1="699.94" x2="699.94" y1="430.5" y2="434.4" stroke="#333" stroke-width="1.48"/>
<line x1="750.81" x2="750.81" y1="430.5" y2="434.4" stroke="#333" stroke-width="1.48"/>
<line x1="801.68" x2="801.68" y1="430.5" y2="434.4" stroke="#333" stroke-width="1.48"/>
<line x1="852.55" x2="852.55" y1="430.5" y2="434.4" stroke="#333" stroke-width="1.48"/>
<line x1="903.42" x2="903.42" y1="430.5" y2="434.4" stroke="#333" stroke-width="1.48"/>
<line x1="954.30" x2="954.30" y1="430.5" y2="434.4" stroke="#333" stroke-width="1.48"/>
<line x1="1005.17" x2="1005.17" y1="430.5" y2="434.4" stroke="#333" stroke-width="1.48"/>
<line x1="1056.04" x2="1056.04" y1="430.5" y2="434.4" stroke="#333" stroke-width="1.48"/>
<line x1="1106.91" x2="1106.91" y1="430.5" y2="434.4" stroke="#333" stroke-width="1.48"/>
<line x1="1157.78" x2="1157.78" y1="430.5" y2="434.4" stroke="#333" stroke-width="1.48"/>
<line x1="1208.66" x2="1208.66" y1="430.5" y2="434.4" stroke="#333" stroke-width="1.48"/>
<line x1="1259.53" x2="1259.53" y1="430.5" y2="434.4" stroke="#333" stroke-width="1.48"/>
<line x1="1310.40" x2="1310.40" y1="430.5" y2="434.4" stroke="#333" stroke-width="1.48"/>
<line x1="1361.27" x2="1361.27" y1="430.5" y2="434.4" stroke="#333" stroke-width="1.48"/>
<line x1="1412.14" x2="1412.14" y1="430.5" y2="434.4" stroke="#333" stroke-width="1.48"/>
<line x1="1463.02" x2="1463.02" y1="430.5" y2="434.4" stroke="#333" stroke-width="1.48"/>
<line x1="1513.89" x2="1513.89" y1="430.5" y2="434.4" stroke="#333" stroke-width="1.48"/>
<line x1="1564.76" x2="1564.76" y1="430.5" y2="434.4" stroke="#333" stroke-width="1.48"/>
<line x1="1615.63" x2="1615.63" y1="430.5" y2="434.4" stroke="#333" stroke-width="1.48"/>
<rect x="1686.9" y="194.8" width="24.2" height="72" fill="#F2F2F2"/>
<line x1="1689.3" x2="1708.7" y1="206.8" y2="206.8" stroke="#0000FF" stroke-width="2.4"/>
<circle cx="1699" cy="206.8" r="5.5" fill="#0000FF"/>
<text x="1719.5" y="211.00" font-size="12.2" fill="#000">NDVI</text>
<line x1="1689.3" x2="1708.7" y1="230.8" y2="230.8" stroke="#006400" stroke-width="2.4"/>
<circle cx="1699" cy="230.8" r="5.5" fill="#006400"/>
<text x="1719.5" y="235.00" font-size="12.2" fill="#000">SWIR2</text>
<line x1="1689.3" x2="1708.7" y1="254.8" y2="254.8" stroke="#FF0000" stroke-width="2.4"/>
<circle cx="1699" cy="254.8" r="5.5" fill="#FF0000"/>
<text x="1719.5" y="259.00" font-size="12.2" fill="#000">SWIR1</text>
</svg></body></html>
